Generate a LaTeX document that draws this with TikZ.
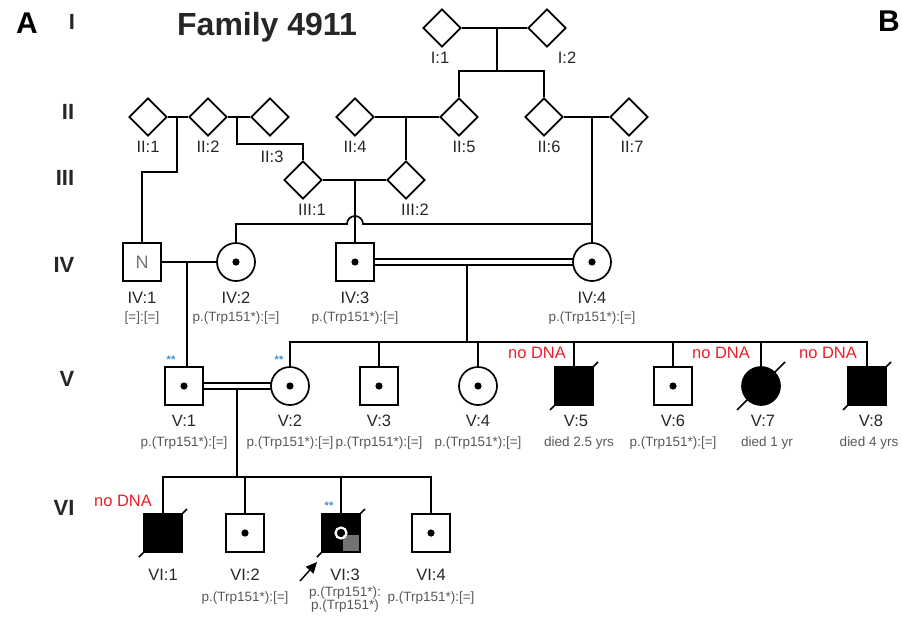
\documentclass[tikz,border=0pt]{standalone}
\usepackage{fontspec}
\setmainfont{Liberation Sans}
\usetikzlibrary{shapes.geometric,arrows.meta,calc}
\definecolor{nored}{HTML}{E8202A}
\definecolor{starblue}{HTML}{3B8FD0}
\newcommand\deadslash[1]{\draw[conn] (#1.center) ++(-24,24) -- ++(48,-48);}
\newcommand\cardot[1]{\fill (#1.center) circle (3.6);}
\begin{document}
\begin{tikzpicture}[x=1pt,y=-1pt,
  conn/.style={line width=1.7pt},
  ind/.style={draw, line width=1.7pt, inner sep=0pt, minimum size=38pt},
  dia/.style={ind, diamond},
  sq/.style={ind, rectangle},
  ci/.style={ind, circle},
  aff/.style={fill=black},
  lab/.style={font=\fontsize{16.5}{18}\selectfont, text=black!85},
  geno/.style={font=\fontsize{13.5}{15}\selectfont, text=black!65},
  nodna/.style={font=\fontsize{16.5}{18}\selectfont, text=nored},
  gen/.style={font=\bfseries\fontsize{22}{24}\selectfont, text=black!85},
  panel/.style={font=\bfseries\fontsize{30}{32}\selectfont},
  stars/.style={font=\bfseries\fontsize{11}{11}\selectfont, text=starblue},
]
\useasboundingbox (0,0) rectangle (902,616);

% headings
\node[panel] (pA) at (27,23) {A};
\node[panel] (pB) at (889,21) {B};
\node[font=\bfseries\fontsize{32}{34}\selectfont, text=black!85] (title) at (267,27) {Family 4911};
\node[gen] (gI) at (72,22) {I};
\node[gen] (gII) at (68,112) {II};
\node[gen] (gIII) at (65,178) {III};
\node[gen] (gIV) at (64,265) {IV};
\node[gen] (gV) at (67,379) {V};
\node[gen] (gVI) at (64,508) {VI};

% generation I
\node[dia] (I1) at (442,28) {};
\node[dia] (I2) at (547,28) {};
\node[lab] (lI1) at (440,58) {I:1};
\node[lab] (lI2) at (567,58) {I:2};

% generation II
\node[dia] (II1) at (148,117) {};
\node[dia] (II2) at (208,117) {};
\node[dia] (II3) at (270,117) {};
\node[dia] (II4) at (355,117) {};
\node[dia] (II5) at (459,117) {};
\node[dia] (II6) at (544,117) {};
\node[dia] (II7) at (629,117) {};
\node[lab] (lII1) at (148,147) {II:1};
\node[lab] (lII2) at (208,147) {II:2};
\node[lab] (lII3) at (272,157) {II:3};
\node[lab] (lII4) at (355,147) {II:4};
\node[lab] (lII5) at (464,147) {II:5};
\node[lab] (lII6) at (549,147) {II:6};
\node[lab] (lII7) at (632,147) {II:7};

% generation III
\node[dia] (III1) at (303,180) {};
\node[dia] (III2) at (406,180) {};
\node[lab] (lIII1) at (312,210) {III:1};
\node[lab] (lIII2) at (415,210) {III:2};

% generation IV
\node[sq] (IV1) at (142,262) {\fontsize{18}{18}\selectfont\color{black!55}N};
\node[ci] (IV2) at (236,262) {};
\node[sq] (IV3) at (355,262) {};
\node[ci] (IV4) at (592,262) {};
\node[lab] (lIV1) at (142,298) {IV:1};
\node[lab] (lIV2) at (236,298) {IV:2};
\node[lab] (lIV3) at (355,298) {IV:3};
\node[lab] (lIV4) at (592,298) {IV:4};
\node[geno] (gIV1) at (142,318) {[=]:[=]};
\node[geno] (gIV2) at (236,318) {p.(Trp151*):[=]};
\node[geno] (gIV3) at (355,318) {p.(Trp151*):[=]};
\node[geno] (gIV4) at (592,318) {p.(Trp151*):[=]};

% generation V
\node[sq] (V1) at (184,386) {};
\node[ci] (V2) at (290,386) {};
\node[sq] (V3) at (379,386) {};
\node[ci] (V4) at (478,386) {};
\node[sq, aff] (V5) at (574,386) {};
\node[sq] (V6) at (673,386) {};
\node[ci, aff] (V7) at (761,386) {};
\node[sq, aff] (V8) at (867,386) {};
\node[lab] (lV1) at (184,421) {V:1};
\node[lab] (lV2) at (290,421) {V:2};
\node[lab] (lV3) at (379,421) {V:3};
\node[lab] (lV4) at (478,421) {V:4};
\node[lab] (lV5) at (576,421) {V:5};
\node[lab] (lV6) at (673,421) {V:6};
\node[lab] (lV7) at (763,421) {V:7};
\node[lab] (lV8) at (871,421) {V:8};
\node[geno] (gV1) at (184,443) {p.(Trp151*):[=]};
\node[geno] (gV2) at (290,443) {p.(Trp151*):[=]};
\node[geno] (gV3) at (379,443) {p.(Trp151*):[=]};
\node[geno] (gV4) at (478,443) {p.(Trp151*):[=]};
\node[geno] (gV5) at (579,443) {died 2.5 yrs};
\node[geno] (gV6) at (673,443) {p.(Trp151*):[=]};
\node[geno] (gV7) at (767,443) {died 1 yr};
\node[geno] (gV8) at (869,443) {died 4 yrs};
\node[nodna] (nV5) at (537,353) {no DNA};
\node[nodna] (nV7) at (721,353) {no DNA};
\node[nodna] (nV8) at (828,353) {no DNA};
\node[stars] (sV1) at (171,360) {**};
\node[stars] (sV2) at (279,360) {**};

% generation VI
\node[sq, aff] (VI1) at (163,533) {};
\node[sq] (VI2) at (245,533) {};
\node[sq, aff] (VI3) at (341,533) {};
\node[sq] (VI4) at (431,533) {};
\node[lab] (lVI1) at (163,575) {VI:1};
\node[lab] (lVI2) at (245,575) {VI:2};
\node[lab] (lVI3) at (345,575) {VI:3};
\node[lab] (lVI4) at (431,575) {VI:4};
\node[geno] (gVI2) at (245,598) {p.(Trp151*):[=]};
\node[geno, align=center] (gVI3) at (345,600) {p.(Trp151*):\\[-2pt]p.(Trp151*)};
\node[geno] (gVI4) at (431,598) {p.(Trp151*):[=]};
\node[nodna] (nVI1) at (123,501) {no DNA};
\node[stars] (sVI3) at (329,506) {**};

% carrier dots
\foreach \n in {IV2,IV3,IV4,V1,V2,V3,V4,V6,VI2,VI4} {\cardot{\n}}

% deceased slashes
\foreach \n in {V5,V7,V8,VI1,VI3} {\deadslash{\n}}

% VI:3 details (drawn over the slash)
\fill[black] (VI3.south west) rectangle (VI3.north east);
\fill[black!55] ($(VI3.center)+(1.5,1.5)$) rectangle ($(VI3.center)+(18,18)$);
\draw[white, line width=2.2pt] (VI3.center) circle (5.5);

% connectors generation I -> II
\draw[conn] (I1.east) -- (I2.west);
\coordinate (m1) at (497,28);
\coordinate (s1) at (497,71);
\draw[conn] (m1) -- (s1);
\draw[conn] (II5.north) |- (s1) -| (II6.north);

% generation II couples
\draw[conn] (II1.east) -- (II2.west);
\coordinate (m21) at (177,117);
\coordinate (k21) at (177,172);
\draw[conn] (m21) -- (k21) -| (IV1.north);
\draw[conn] (II2.east) -- (II3.west);
\coordinate (m22) at (237,117);
\coordinate (k22) at (237,144);
\draw[conn] (m22) -- (k22) -| (III1.north);
\draw[conn] (II4.east) -- (II5.west);
\coordinate (m23) at (406,117);
\draw[conn] (m23) -- (III2.north);
\draw[conn] (II6.east) -- (II7.west);
\coordinate (m24) at (592,117);
\draw[conn] (m24) -- (IV4.north);

% generation III couple
\draw[conn] (III1.east) -- (III2.west);
\coordinate (m3) at (355,180);
\draw[conn] (m3) -- (IV3.north);
\coordinate (h1) at (347,224);
\coordinate (j4) at (592,224);
\draw[conn] (IV2.north) |- (h1) arc[start angle=180, end angle=360, radius=8] -- (j4);

% generation IV couples
\draw[conn] (IV1.east) -- (IV2.west);
\coordinate (m41) at (187,262);
\draw[conn] (m41) -- (m41 |- V1.north);
\draw[conn] ($(IV3.east)+(0,-3)$) -- ($(IV4.west)+(0.4,-3)$);
\draw[conn] ($(IV3.east)+(0,3)$) -- ($(IV4.west)+(0.4,3)$);
\coordinate (m42) at (467,265);
\coordinate (s5) at (467,342);
\draw[conn] (m42) -- (s5);
\draw[conn] (V2.north) |- (s5) -| (V8.north);
\foreach \n in {V3,V4,V5,V6,V7} {\draw[conn] (\n.north) -- (\n.north |- s5);}

% generation V couple
\draw[conn] ($(V1.east)+(0,-3)$) -- ($(V2.west)+(0.4,-3)$);
\draw[conn] ($(V1.east)+(0,3)$) -- ($(V2.west)+(0.4,3)$);
\coordinate (m5) at (237,389);
\coordinate (s6) at (237,477);
\draw[conn] (m5) -- (s6);
\draw[conn] (VI1.north) |- (s6) -| (VI4.north);
\foreach \n in {VI2,VI3} {\draw[conn] (\n.north) -- (\n.north |- s6);}

% proband arrow
\coordinate (pa0) at (300,581);
\coordinate (pa1) at (317,562);
\draw[line width=1.4pt, -{Triangle[length=11pt,width=10pt]}] (pa0) -- (pa1);
\end{tikzpicture}
\end{document}
